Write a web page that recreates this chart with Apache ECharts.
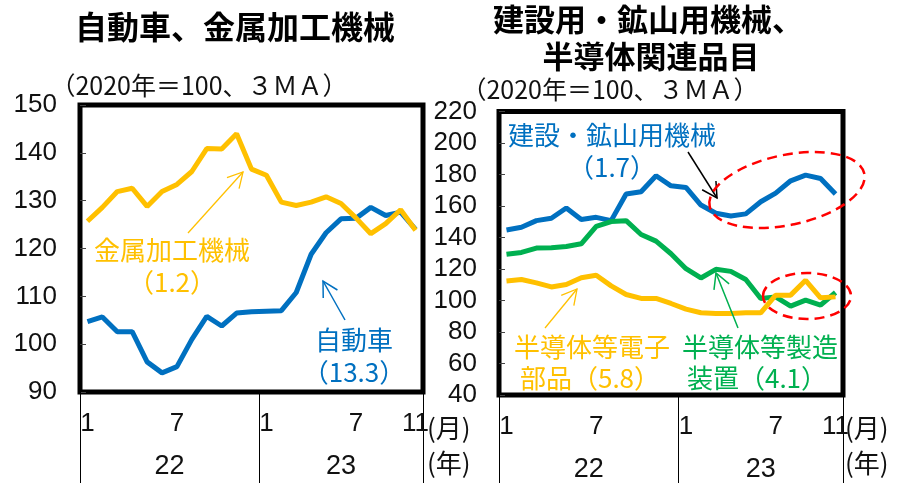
<!DOCTYPE html>
<html><head><meta charset="utf-8">
<script src="https://cdn.jsdelivr.net/npm/echarts@6/dist/echarts.min.js"></script>
<style>html,body{margin:0;padding:0;background:#fff}#c{width:901px;height:483px}</style>
</head><body><div id="c"></div>
<script>
// ---- data ----
const months = ['1','2','3','4','5','6','7','8','9','10','11','12','1','2','3','4','5','6','7','8','9','10','11'];
const yearOfMonth = ['22','22','22','22','22','22','22','22','22','22','22','22','23','23','23','23','23','23','23','23','23','23','23'];
const autos = [104.7,105.7,102.6,102.6,96.3,94.0,95.3,101.0,105.8,103.8,106.5,106.8,106.9,107.0,110.8,118.8,123.3,126.2,126.3,128.6,126.9,127.6,124.0];
const metalMachinery = [125.7,128.6,131.9,132.6,128.8,131.9,133.4,136.1,140.9,140.8,144.0,136.6,135.3,129.7,129.0,129.7,130.8,129.4,126.4,123.1,125.2,128.1,123.8];
const constructionMining = [144.8,146.5,150.7,152.2,158.7,151.4,152.8,150.7,167.6,169.1,179.2,172.8,171.8,160.6,155.4,153.7,155.0,162.7,168.2,176.0,179.6,177.5,167.6];
const semiEquipment = [129.3,130.5,133.3,133.5,134.3,136.0,147.0,150.1,150.7,141.9,137.7,129.7,120.2,114.3,119.8,118.5,113.3,101.3,102.3,96.4,100.2,97.1,105.1];
const semiParts = [112.4,113.3,111.2,108.6,110.1,114.5,116.0,109.3,103.8,101.3,101.3,98.1,94.5,92.2,91.8,91.8,92.2,92.2,103.4,103.4,112.8,101.7,102.3];
const leftAxis = {min: 90, max: 150, interval: 10};
const rightAxis = {min: 40, max: 220, interval: 20};
const monthLabelsShown = ['1','7'];

// ---- style ----
const BLUE = '#0070C0', GOLD = '#FFC000', GREEN = '#00B050';
const NUM_FONT = '"Liberation Sans",sans-serif';
const JP_FONT = '"Noto Sans CJK JP","Noto Sans",sans-serif';

function yearCenters() {
  const res = {};
  yearOfMonth.forEach((y, i) => { (res[y] = res[y] || []).push(i); });
  const out = {};
  Object.keys(res).forEach(y => {
    const idx = res[y];
    const c = (idx[0] + idx[idx.length - 1]) / 2;
    out[Math.floor(c)] = {text: y, half: c % 1 !== 0};
  });
  return out;
}
const yc = yearCenters();

function monthAxis(gridIndex) {
  return {
    type: 'category', gridIndex, data: months, position: 'bottom', boundaryGap: true,
    axisLine: {show: false}, axisTick: {show: false},
    axisLabel: {
      interval: 0, margin: 19, color: '#111', fontFamily: NUM_FONT, fontSize: 26,
      formatter: (v, i) => (monthLabelsShown.includes(v) || i === months.length - 1) ? v : ''
    }
  };
}
function yearAxis(gridIndex) {
  return {
    type: 'category', gridIndex, data: yearOfMonth, position: 'bottom', boundaryGap: true,
    axisLine: {show: false},
    axisTick: {show: true, inside: false, length: 92, lineStyle: {color: '#000', width: 1},
      interval: (i) => i === 0 || yearOfMonth[i] !== yearOfMonth[i - 1]},
    axisLabel: {
      interval: 0, margin: 61, color: '#111', fontFamily: NUM_FONT, fontSize: 27,
      formatter: (v, i) => yc[i] ? (yc[i].half ? '{h|' + v + '}' : '{n|' + v + '}') : '',
      rich: {
        h: {padding: [0, 0, 0, 15], fontFamily: NUM_FONT, fontSize: 27, color: '#111'},
        n: {fontFamily: NUM_FONT, fontSize: 27, color: '#111'}
      }
    }
  };
}
function valAxis(gridIndex, ax, margin) {
  return {
    type: 'value', gridIndex, min: ax.min, max: ax.max, interval: ax.interval,
    axisLine: {show: false}, splitLine: {show: false},
    axisTick: {show: true, inside: true, length: 6, lineStyle: {color: '#444', width: 1}},
    axisLabel: {margin, color: '#111', fontFamily: NUM_FONT, fontSize: 26}
  };
}
function lineSeries(name, data, color, xi, yi) {
  return {name, type: 'line', data, xAxisIndex: xi, yAxisIndex: yi, symbol: 'none',
    lineStyle: {color, width: 5}, itemStyle: {color}, silent: true, animation: false};
}

const chart = echarts.init(document.getElementById('c'), null, {renderer: 'canvas'});
chart.setOption({
  animation: false,
  grid: [
    {left: 80, right: 478, top: 105, bottom: 91, show: true, borderColor: '#000', borderWidth: 5, backgroundColor: 'transparent'},
    {left: 499, right: 58, top: 111.5, bottom: 88, show: true, borderColor: '#000', borderWidth: 5, backgroundColor: 'transparent'}
  ],
  xAxis: [monthAxis(0), yearAxis(0), monthAxis(1), yearAxis(1)],
  yAxis: [valAxis(0, leftAxis, 23), valAxis(1, rightAxis, 22)],
  series: [
    lineSeries('自動車', autos, BLUE, 0, 0),
    lineSeries('金属加工機械', metalMachinery, GOLD, 0, 0),
    lineSeries('建設・鉱山用機械', constructionMining, BLUE, 2, 1),
    lineSeries('半導体等製造装置', semiEquipment, GREEN, 2, 1),
    lineSeries('半導体等電子部品', semiParts, GOLD, 2, 1)
  ]
});

// ---- annotations ----
function txt(text, x, y, size, color, bold) {
  return {type: 'text', x, y, z: 100, style: {text, fill: color, fontSize: size, fontFamily: JP_FONT,
    fontWeight: bold ? 'bold' : 'normal', align: 'center', verticalAlign: 'middle'}};
}
function ltxt(text, x, y, size, color) {
  return {type: 'text', x, y, z: 100, style: {text, fill: color, fontSize: size, fontFamily: JP_FONT,
    align: 'left', verticalAlign: 'middle'}};
}
function arrow(x1, y1, x2, y2, color, w) {
  const ang = Math.atan2(y1 - y2, x1 - x2), L = 17, a = 0.5;
  return [
    {type: 'line', z: 90, shape: {x1, y1, x2, y2}, style: {stroke: color, lineWidth: w}},
    {type: 'polyline', z: 90, shape: {points: [
      [x2 + L * Math.cos(ang + a), y2 + L * Math.sin(ang + a)], [x2, y2],
      [x2 + L * Math.cos(ang - a), y2 + L * Math.sin(ang - a)]]},
      style: {stroke: color, lineWidth: w, fill: null}}
  ];
}
function ell(cx, cy, rx, ry, deg) {
  return {type: 'ellipse', z: 95, x: cx, y: cy, rotation: deg * Math.PI / 180,
    shape: {cx: 0, cy: 0, rx, ry}, style: {stroke: '#FF0000', lineWidth: 2.5, fill: null, lineDash: [10, 6]}};
}
const unitText = '（2020年＝100、３ＭＡ）';
chart.setOption({graphic: [].concat(
  [
    txt('自動車、金属加工機械', 235, 27, 32, '#000', true),
    txt('建設用・鉱山用機械、', 648, 19, 31, '#000', true),
    txt('半導体関連品目', 651, 56, 31, '#000', true),
    txt(unitText, 199, 85, 25, '#111'),
    txt(unitText, 610, 89, 25, '#111'),
    ltxt('(月)', 427, 428, 26, '#111'),
    ltxt('(年)', 427, 463, 26, '#111'),
    ltxt('(月)', 845, 428, 26, '#111'),
    ltxt('(年)', 845, 463, 26, '#111'),
    txt('金属加工機械', 172, 250, 26, GOLD),
    txt('（1.2）', 172, 282, 26, GOLD),
    txt('自動車', 354, 340, 26, BLUE),
    txt('（13.3）', 354, 372, 26, BLUE),
    txt('建設・鉱山用機械', 612, 135, 26, BLUE),
    txt('（1.7）', 612, 167, 26, BLUE),
    txt('半導体等電子', 592, 347, 26, GOLD),
    txt('部品（5.8）', 590, 378, 26, GOLD),
    txt('半導体等製造', 760, 347, 26, GREEN),
    txt('装置（4.1）', 757, 378, 26, GREEN),
    ell(787, 190, 79, 35, 12),
    ell(807, 296, 44, 23, 0)
  ],
  arrow(188, 233, 243, 172, GOLD, 1.3),
  arrow(345, 320, 323, 281, BLUE, 1.5),
  arrow(688, 152, 717, 198, '#000', 1.5),
  arrow(545, 328, 577, 289, GOLD, 1.3),
  arrow(738, 328, 716, 273, GREEN, 1.5)
)});
</script></body></html>
